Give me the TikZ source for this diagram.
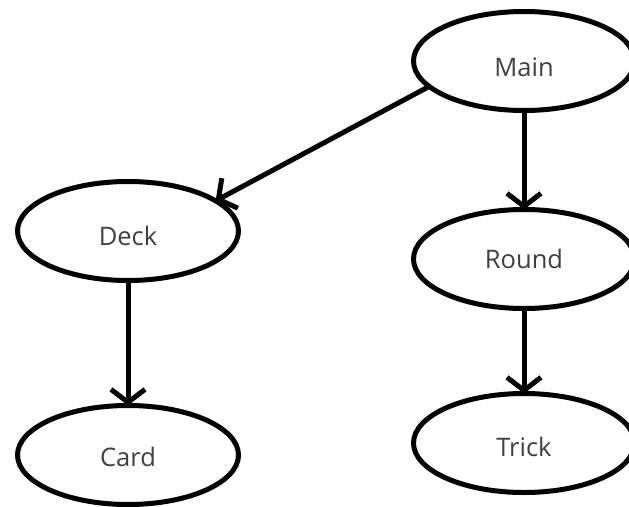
\documentclass[tikz,border=0pt]{standalone}
\usepackage{fontspec}
\setmainfont{Open Sans}
\usetikzlibrary{shapes.geometric,arrows.meta}
\definecolor{txt}{HTML}{404040}
\newcommand{\lowtxt}[2]{\raisebox{-#1pt}[0pt][0pt]{#2}}
\begin{document}
\begin{tikzpicture}[x=1pt,y=-1pt,
  ov/.style={ellipse,draw=black,line width=5pt,minimum width=221pt,minimum height=99pt,inner sep=0pt,outer sep=0pt,font=\fontsize{25.5}{30}\selectfont,text=txt},
  conn/.style={line width=5pt,-{Straight Barb[length=13pt,width=34pt,line width=5pt]}}]
\useasboundingbox (0,0) rectangle (629,506);
\node[ov] (Main) at (524,61) {\lowtxt{15}{Main}};
\node[ov] (Deck) at (128,231) {\lowtxt{14}{Deck}};
\node[ov] (Round) at (524,259) {\lowtxt{9}{Round}};
\node[ov] (Card) at (128,455) {\lowtxt{11}{Card}};
\node[ov] (Trick) at (524,443) {\lowtxt{13}{Trick}};
\draw[conn] (Main.195) -- (Deck.19);
\draw[conn] (Main.south) -- (Round.north);
\draw[conn] (Deck.south) -- (Card.north);
\draw[conn] (Round.south) -- (Trick.north);
\end{tikzpicture}
\end{document}
